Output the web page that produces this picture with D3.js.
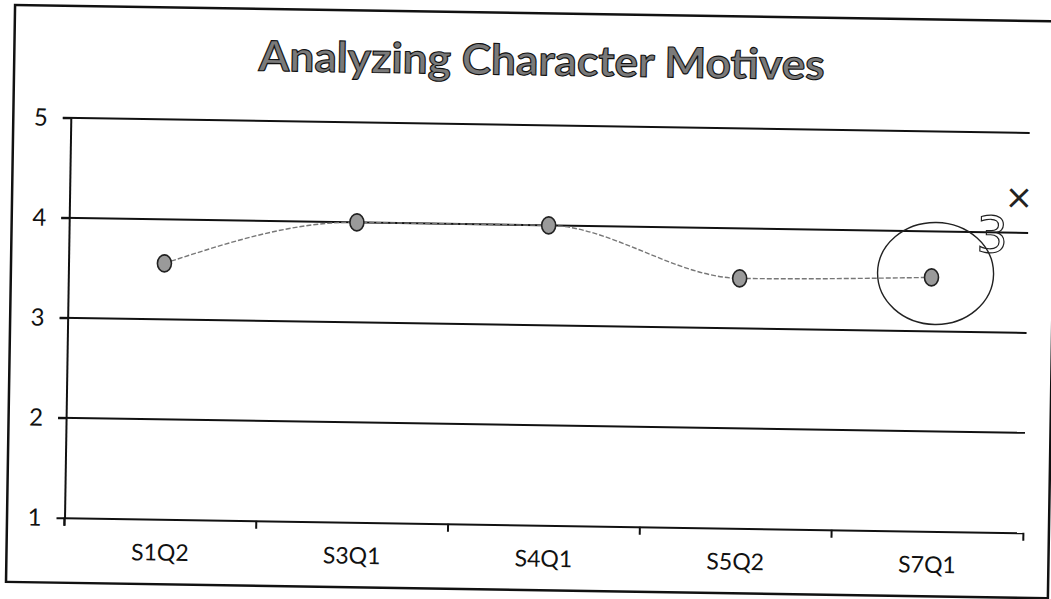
<!DOCTYPE html>
<html>
<head>
<meta charset="utf-8">
<script src="https://cdn.jsdelivr.net/npm/d3@7"></script>
<style>
  body { margin: 0; background: #fff; }
  svg { display: block; }
  .ylab text { font-family: Lato, "Open Sans", sans-serif; font-size: 24px; fill: #111; }
  .xlab text { font-family: Lato, "Open Sans", sans-serif; font-size: 23px; fill: #111; }
</style>
</head>
<body>
<div id="chart"></div>
<script>
// values
var categories = ["S1Q2", "S3Q1", "S4Q1", "S5Q2", "S7Q1"];
var scores = [3.56, 4.0, 4.0, 3.5, 3.54];
var yTicks = [1, 2, 3, 4, 5];
var chartTitle = "Analyzing Character Motives";

var W = 1051, H = 599;
var plotLeft = 68, plotRight = 1027, plotTop = 125, plotBottom = 525;

var svg = d3.select("#chart").append("svg")
  .attr("width", W).attr("height", H);
svg.append("rect").attr("width", W).attr("height", H).attr("fill", "#fff");

// the scan is tilted a little
var g = svg.append("g").attr("transform", "rotate(0.9,525,300)");

// frame of the chart
g.append("rect")
  .attr("x", 10.5).attr("y", 13).attr("width", 1042).attr("height", 577)
  .attr("fill", "none").attr("stroke", "#111").attr("stroke-width", 2.5);

g.append("text")
  .attr("x", 538).attr("y", 75)
  .attr("text-anchor", "middle")
  .attr("textLength", 566).attr("lengthAdjust", "spacingAndGlyphs")
  .style("font-family", "Lato, 'Open Sans', sans-serif")
  .style("font-weight", "bold").style("font-size", "42px")
  .attr("fill", "#7a7a7a").attr("stroke", "#111").attr("stroke-width", 1.1)
  .text(chartTitle);

var y = d3.scaleLinear().domain([1, 5]).range([plotBottom, plotTop]);
var x = d3.scaleBand().domain(categories).range([plotLeft, plotRight]);

// horizontal grid lines
g.append("g").selectAll("line")
  .data(yTicks.filter(function(d) { return d > 1; }))
  .join("line")
  .attr("x1", plotLeft - 8).attr("x2", plotRight)
  .attr("y1", function(d) { return y(d); }).attr("y2", function(d) { return y(d); })
  .attr("stroke", "#111").attr("stroke-width", 2);

// y axis
var yAxis = g.append("g").attr("class", "ylab")
  .attr("transform", "translate(" + plotLeft + ",0)")
  .call(d3.axisLeft(y).tickValues(yTicks).tickFormat(d3.format("d")).tickSize(8).tickSizeOuter(0).tickPadding(15));
yAxis.select(".domain").attr("stroke", "#111").attr("stroke-width", 2);
yAxis.selectAll(".tick line").attr("stroke", "#111").attr("stroke-width", 2);
g.append("line")
  .attr("x1", plotLeft).attr("x2", plotLeft).attr("y1", plotBottom).attr("y2", plotBottom + 8)
  .attr("stroke", "#111").attr("stroke-width", 2);

// x axis, ticks between categories
var xAxis = g.append("g").attr("class", "xlab")
  .attr("transform", "translate(0," + plotBottom + ")")
  .call(d3.axisBottom(x).tickSize(0).tickPadding(25));
xAxis.select(".domain").attr("stroke", "#111").attr("stroke-width", 2);
xAxis.selectAll(".tick text").attr("dy", "0.71em");
g.append("g").selectAll("line")
  .data(d3.range(categories.length + 1))
  .join("line")
  .attr("x1", function(i) { return plotLeft + i * x.step(); })
  .attr("x2", function(i) { return plotLeft + i * x.step(); })
  .attr("y1", plotBottom).attr("y2", plotBottom + 8)
  .attr("stroke", "#111").attr("stroke-width", 2);

// the series
var pts = categories.map(function(c, i) { return { cat: c, v: scores[i] }; });
var line = d3.line()
  .x(function(d) { return x(d.cat) + x.bandwidth() / 2; })
  .y(function(d) { return y(d.v); })
  .curve(d3.curveMonotoneX);

g.append("path").datum(pts)
  .attr("d", line)
  .attr("fill", "none").attr("stroke", "#777").attr("stroke-width", 1.4)
  .attr("stroke-dasharray", "5 2");

g.append("g").selectAll("ellipse")
  .data(pts)
  .join("ellipse")
  .attr("cx", function(d) { return x(d.cat) + x.bandwidth() / 2; })
  .attr("cy", function(d) { return y(d.v); })
  .attr("rx", 7).attr("ry", 8.5)
  .attr("fill", "#9a9a9a").attr("stroke", "#222").attr("stroke-width", 1.6);

// hand-drawn circle and note around the last point
var last = pts[pts.length - 1];
var lx = x(last.cat) + x.bandwidth() / 2, ly = y(last.v);
g.append("ellipse")
  .attr("cx", lx + 4).attr("cy", ly - 4)
  .attr("rx", 58).attr("ry", 51)
  .attr("fill", "none").attr("stroke", "#222").attr("stroke-width", 1.4);
g.append("text")
  .attr("x", lx + 44).attr("y", ly - 26)
  .style("font-family", "'DejaVu Sans', sans-serif").style("font-size", "50px")
  .attr("fill", "none").attr("stroke", "#222").attr("stroke-width", 1.2)
  .text("3");
g.append("text")
  .attr("x", lx + 72).attr("y", ly - 70)
  .style("font-family", "'DejaVu Sans', sans-serif").style("font-size", "34px")
  .attr("fill", "#222")
  .text("×");
</script>
</body>
</html>
